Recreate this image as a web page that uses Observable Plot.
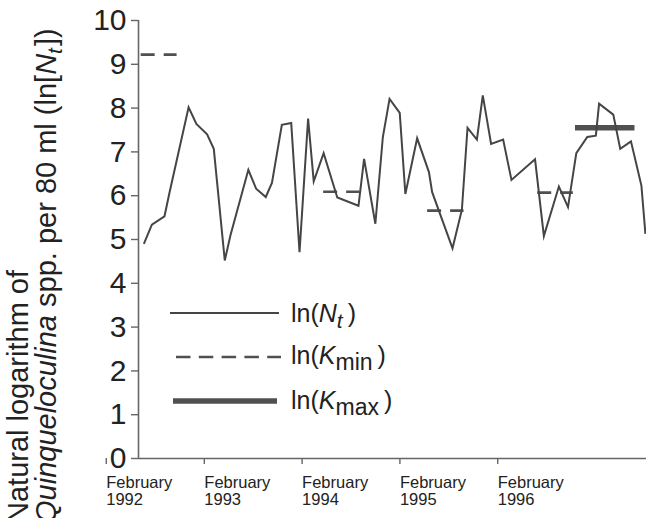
<!DOCTYPE html>
<html>
<head>
<meta charset="utf-8">
<script src="https://cdn.jsdelivr.net/npm/d3@7"></script>
<script src="https://cdn.jsdelivr.net/npm/@observablehq/plot@0.6"></script>
<style>
  html, body { margin: 0; padding: 0; background: #fff; }
  #wrap { position: relative; width: 646px; height: 518px; overflow: hidden; font-family: "Liberation Sans", Arial, sans-serif; }
  #overlay { position: absolute; left: 0; top: 0; pointer-events: none; }
</style>
</head>
<body>
<div id="wrap"></div>
<script>
// Sampling dates and ln(N_t) values
const dates = [
  "1992-02-07","1992-03-08","1992-04-24","1992-05-13","1992-07-23","1992-08-21","1992-09-30","1992-10-25",
  "1992-12-05","1992-12-26","1993-03-03","1993-04-01","1993-05-07","1993-05-30","1993-07-06","1993-08-10",
  "1993-09-10","1993-10-12","1993-11-02","1993-12-09","1994-01-29","1994-04-18","1994-05-09","1994-06-20",
  "1994-07-18","1994-08-12","1994-09-19","1994-10-10","1994-11-23","1995-01-06","1995-01-18","1995-04-04",
  "1995-05-09","1995-05-30","1995-07-04","1995-07-26","1995-08-26","1995-10-10","1995-11-10","1996-02-06",
  "1996-03-10","1996-05-05","1996-06-08","1996-07-09","1996-08-19","1996-09-20","1996-10-02","1996-11-24",
  "1996-12-20","1997-01-29","1997-03-09","1997-03-24"
];
const lnN = [
  4.90, 5.34, 5.53, 6.08, 8.02, 7.64, 7.40, 7.07,
  4.52, 5.09, 6.59, 6.16, 5.97, 6.29, 7.62, 7.66,
  4.71, 7.76, 6.33, 6.97, 5.96, 5.77, 6.84, 5.36,
  7.34, 8.21, 7.89, 6.04, 7.31, 6.54, 6.08, 4.80,
  5.68, 7.55, 7.28, 8.29, 7.18, 7.28, 6.36, 6.83,
  5.08, 6.21, 5.74, 6.97, 7.34, 7.37, 8.10, 7.85,
  7.07, 7.24, 6.23, 5.13
];

// ln(K_min) segments
const kminStart = ["1992-01-28","1993-12-09","1995-01-01","1996-02-16"];
const kminEnd   = ["1992-06-10","1994-04-24","1995-05-17","1996-06-28"];
const kminValue = [9.22, 6.09, 5.66, 6.07];

// ln(K_max) segment
const kmaxStart = ["1996-07-06"];
const kmaxEnd   = ["1997-02-13"];
const kmaxValue = [7.55];

// Axis ticks
const xTickDates = ["1992-02-01","1993-02-01","1994-02-01","1995-02-01","1996-02-01"];
const xTickMonth = "February";
const yTicks = [0,1,2,3,4,5,6,7,8,9,10];
const xDomain = ["1992-01-18","1997-03-28"];

const P = d3.utcParse("%Y-%m-%d");
const series = dates.map((d, i) => ({date: P(d), v: lnN[i]}));
const kmin = kminValue.map((v, i) => ({x1: P(kminStart[i]), x2: P(kminEnd[i]), v}));
const kmax = kmaxValue.map((v, i) => ({x1: P(kmaxStart[i]), x2: P(kmaxEnd[i]), v}));

const axisColor = "#666";
const lineColor = "#454545";

const chart = Plot.plot({
  width: 646,
  height: 518,
  marginLeft: 138,
  marginRight: 0,
  marginTop: 20,
  marginBottom: 60,
  style: {fontFamily: "'Liberation Sans', Arial, sans-serif", color: "#222", background: "#fff"},
  x: {type: "utc", domain: xDomain.map(P)},
  y: {domain: [0, 10]},
  marks: [
    Plot.axisY({
      ticks: yTicks, tickSize: 7, tickPadding: 5, fontSize: 30, stroke: axisColor, strokeWidth: 1.4,
      label: null, tickFormat: d => String(d)
    }),
    Plot.axisX({
      ticks: xTickDates.map(P), tickSize: 6, tickPadding: 11, fontSize: 16.5, stroke: axisColor, strokeWidth: 1.4,
      label: null, textAnchor: "start", dx: -36, lineHeight: 1.03,
      tickFormat: d => xTickMonth + "\n" + d.getUTCFullYear()
    }),
    Plot.ruleY([0], {stroke: axisColor, strokeWidth: 1.6}),
    Plot.ruleX([P(xDomain[0])], {stroke: axisColor, strokeWidth: 1.6}),
    Plot.ruleY(kmin, {y: "v", x1: "x1", x2: "x2", stroke: "#505050", strokeWidth: 2.6, strokeDasharray: "14,9"}),
    Plot.ruleY(kmax, {y: "v", x1: "x1", x2: "x2", stroke: "#505050", strokeWidth: 5.5}),
    Plot.line(series, {x: "date", y: "v", stroke: lineColor, strokeWidth: 2, strokeLinejoin: "miter", strokeMiterlimit: 6, strokeLinecap: "butt"})
  ]
});

const wrap = document.getElementById("wrap");
wrap.appendChild(chart);

// Overlay: y-axis title and legend
const ov = d3.select(wrap).append("svg")
  .attr("id", "overlay").attr("width", 646).attr("height", 518)
  .style("font-family", "'Liberation Sans', Arial, sans-serif");

// Y-axis title (two lines, rotated)
const labelSize = 29;
ov.append("text").attr("transform", "translate(28,523) rotate(-90)")
  .attr("font-size", labelSize).attr("fill", "#222").text("Natural logarithm of");
const t2 = ov.append("text").attr("transform", "translate(56,523) rotate(-90)")
  .attr("font-size", labelSize).attr("fill", "#222");
t2.append("tspan").attr("font-style", "italic").text("Quinqueloculina");
t2.append("tspan").text(" spp. per 80 ml (ln[");
t2.append("tspan").attr("font-style", "italic").text("N");
t2.append("tspan").attr("font-style", "italic").attr("font-size", 21).attr("dy", 6).text("t");
t2.append("tspan").attr("dy", -6).attr("dx", 2).text("])");

// Legend
const lg = ov.append("g").attr("fill", "#222").attr("font-size", 25);
lg.append("line").attr("x1", 170).attr("x2", 279).attr("y1", 313).attr("y2", 313)
  .attr("stroke", lineColor).attr("stroke-width", 1.9);
lg.append("line").attr("x1", 176).attr("x2", 281).attr("y1", 357).attr("y2", 357)
  .attr("stroke", "#505050").attr("stroke-width", 2.6).attr("stroke-dasharray", "14.5,8.3");
lg.append("line").attr("x1", 173).attr("x2", 277).attr("y1", 401).attr("y2", 401)
  .attr("stroke", "#505050").attr("stroke-width", 5.5);

const l1 = lg.append("text").attr("x", 291).attr("y", 322);
l1.append("tspan").text("ln(");
l1.append("tspan").attr("font-style", "italic").text("N");
l1.append("tspan").attr("font-style", "italic").attr("font-size", 21).attr("dy", 6).text("t");
l1.append("tspan").attr("dy", -6).attr("dx", 5).text(")");

const l2 = lg.append("text").attr("x", 291).attr("y", 364);
l2.append("tspan").text("ln(");
l2.append("tspan").attr("font-style", "italic").text("K");
l2.append("tspan").attr("font-size", 23).attr("dy", 6).text("min");
l2.append("tspan").attr("dy", -6).attr("dx", 5).text(")");

const l3 = lg.append("text").attr("x", 291).attr("y", 409);
l3.append("tspan").text("ln(");
l3.append("tspan").attr("font-style", "italic").text("K");
l3.append("tspan").attr("font-size", 23).attr("dy", 6).text("max");
l3.append("tspan").attr("dy", -6).attr("dx", 5).text(")");
</script>
</body>
</html>
